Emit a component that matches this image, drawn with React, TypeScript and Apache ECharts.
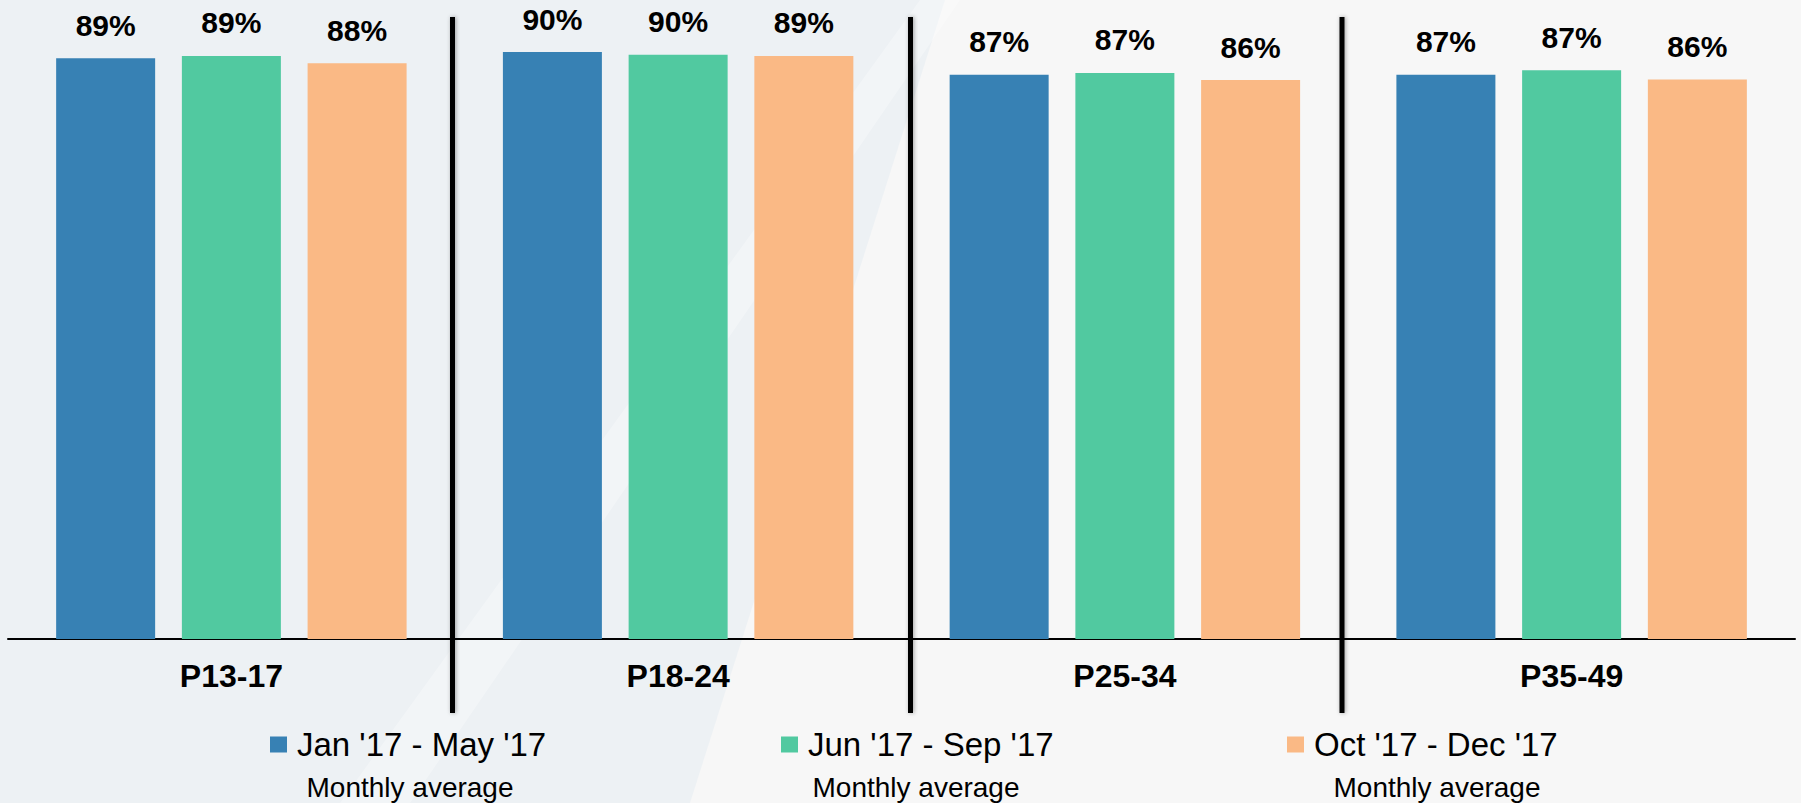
import React, { useEffect, useRef } from "react";
import * as echarts from "echarts";

const categories = ["P13-17", "P18-24", "P25-34", "P35-49"];
const seriesNames = ["Jan '17 - May '17", "Jun '17 - Sep '17", "Oct '17 - Dec '17"];
const janMay = [89.05, 90.0, 86.5, 86.5];
const junSep = [89.4, 89.6, 86.8, 87.2];
const octDec = [88.3, 89.4, 85.7, 85.8];
const seriesColors = ["#3781b4", "#51c9a0", "#fab985"];
const legendSubtitle = "Monthly average";

const FONT = "'Liberation Sans', Arial, sans-serif";

export default function App() {
  const ref = useRef<HTMLDivElement>(null);
  useEffect(() => {
    if (!ref.current) return;
    const chart = echarts.init(ref.current, null, { renderer: "svg" });
    const values = [janMay, junSep, octDec];
    const legendLefts = [270, 781, 1287];
    const subtitleCenters = [410, 916, 1437];
    const separators = [452.5, 910.5, 1342];

    const series = seriesNames.map((name, i) => ({
      name,
      type: "bar",
      data: values[i],
      barWidth: 99,
      barGap: "27%",
      itemStyle: { color: seriesColors[i] },
      label: {
        show: true,
        position: "top",
        distance: 18,
        formatter: (p: any) => Math.round(p.value) + "%",
        color: "#000",
        fontFamily: FONT,
        fontWeight: "bold",
        fontSize: 30,
      },
    }));

    const legends = seriesNames.map((name, i) => ({
      data: [name],
      left: legendLefts[i],
      top: 728,
      orient: "horizontal",
      padding: 0,
      itemWidth: 17,
      itemHeight: 16,
      icon: "rect",
      selectedMode: false,
      textStyle: {
        fontFamily: FONT,
        fontSize: 33,
        color: "#000",
        padding: [0, 0, 0, 5],
      },
    }));

    const graphics: any[] = [
      {
        type: "polygon",
        z: -10,
        silent: true,
        shape: { points: [[0, 0], [945, 0], [690, 803], [0, 803]] },
        style: { fill: "#edf1f4" },
      },
      {
        type: "polygon",
        z: -9,
        silent: true,
        shape: { points: [[920, 0], [960, 0], [410, 803], [340, 803]] },
        style: { fill: "rgba(255,255,255,0.3)" },
      },
      ...separators.map((x) => ({
        type: "rect",
        z: 100,
        silent: true,
        shape: { x: x - 2.5, y: 17, width: 5, height: 696 },
        style: { fill: "#000", shadowBlur: 4, shadowColor: "rgba(0,0,0,0.35)", shadowOffsetX: 1 },
      })),
      ...subtitleCenters.map((cx) => ({
        type: "text",
        z: 100,
        silent: true,
        x: cx,
        y: 787,
        style: {
          text: legendSubtitle,
          fontFamily: FONT,
          fontSize: 28,
          fill: "#000",
          textAlign: "center",
          textVerticalAlign: "middle",
        },
      })),
    ];

    chart.setOption({
      animation: false,
      backgroundColor: "#f7f7f7",
      grid: { left: 8, right: 6, top: 39, bottom: 164, containLabel: false },
      xAxis: {
        type: "category",
        data: categories,
        axisLine: { show: true, lineStyle: { color: "#000", width: 2 } },
        axisTick: { show: false },
        axisLabel: {
          margin: 21,
          fontFamily: FONT,
          fontWeight: "bold",
          fontSize: 32,
          color: "#000",
        },
      },
      yAxis: {
        type: "value",
        min: 0,
        max: 92,
        show: false,
        splitLine: { show: false },
      },
      legend: legends,
      series,
      graphic: graphics,
    });
    return () => chart.dispose();
  }, []);
  return (
    <div
      ref={ref}
      style={{ position: "fixed", left: 0, top: 0, width: 1801, height: 803 }}
    />
  );
}
